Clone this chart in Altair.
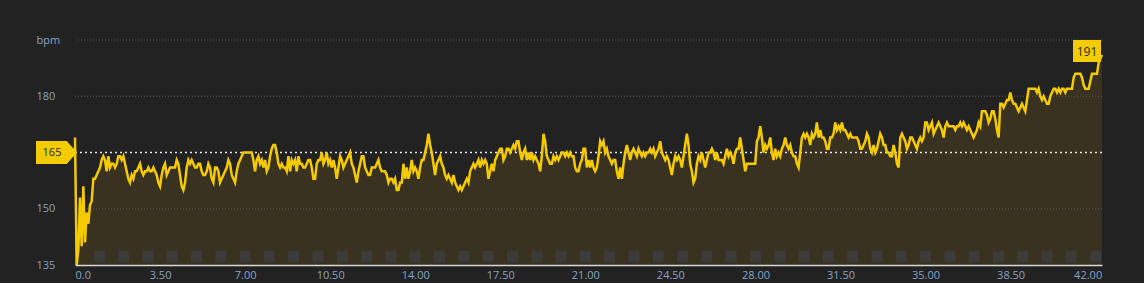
import altair as alt
import pandas as pd

# Heart-rate samples (bpm), evenly spaced along the distance axis
HR = [
    169,135,139,153,140,156,141,149,146,151,
    152,158,158,159,160,161,163,164,163,160,
    164,161,162,162,161,162,164,164,163,164,
    162,160,158,157,159,158,160,160,161,162,
    160,159,160,160,161,160,160,161,160,159,
    157,156,159,161,162,159,160,161,161,161,
    161,163,162,159,156,155,157,161,163,162,
    163,162,161,161,162,162,160,159,159,160,
    162,161,158,157,161,161,160,157,158,159,
    160,161,163,162,159,158,157,160,162,163,
    164,165,165,165,165,165,165,163,160,163,
    164,162,163,161,163,160,161,164,166,167,
    167,165,162,161,162,161,161,160,164,160,
    163,162,163,160,164,162,162,161,161,162,
    163,163,161,158,158,162,163,163,165,162,
    163,165,162,
    163,161,163,161,158,161,164,163,161,162,
    163,164,165,162,161,159,157,160,162,164,
    164,161,160,159,159,161,161,161,162,163,
    161,160,160,160,159,157,158,158,157,158,
    155,155,157,157,162,158,161,158,160,163,
    160,161,160,158,161,163,163,165,167,170,
    167,165,162,159,162,163,164,162,161,159,
    158,159,158,157,159,157,156,155,156,155,
    156,157,158,157,160,161,162,161,162,163,
    161,163,162,163,162,158,160,162,160,163,
    164,165,166,166,163,164,166,166,165,166,
    167,166,168,168,165,163,165,166,163,165,
    163,165,163,164,163,162,160,164,170,168,
    164,163,162,162,164,163,164,163,164,165,
    165,164,165,164,165,164,164,161,160,160,
    162,163,166,
    166,161,163,161,163,161,160,161,164,168,
    167,168,165,166,164,163,162,163,163,160,
    158,161,158,162,165,167,165,163,165,166,
    165,164,166,165,164,165,164,165,165,166,
    165,166,164,165,166,168,165,164,163,164,
    163,161,159,162,164,163,164,163,161,164,
    167,170,167,162,160,157,158,162,164,163,
    165,163,161,163,165,165,166,165,163,165,
    163,163,163,162,164,166,164,165,164,162,
    165,166,166,169,166,163,160,162,162,162,
    162,162,162,168,169,172,169,165,167,166,
    167,169,165,163,166,164,165,164,166,167,
    169,167,166,167,165,164,164,162,161,165,
    169,170,169,170,169,167,170,169,170,173,
    169,171,169,169,168,166,166,169,169,170,
    173,171,172,171,
    173,171,171,170,169,170,169,169,169,169,
    168,166,166,167,168,170,169,166,165,167,
    165,166,168,170,169,167,167,165,165,164,
    164,167,165,162,161,169,170,169,168,166,
    167,169,169,168,167,166,168,169,168,169,
    173,173,171,172,173,170,171,172,173,172,
    171,169,172,173,172,172,172,172,171,172,
    172,173,172,173,172,171,172,171,170,169,
    170,171,173,172,176,176,176,175,173,174,
    176,176,174,171,169,178,178,177,178,179,
    179,181,179,178,178,177,176,177,178,177,
    176,179,182,182,182,182,182,181,182,180,
    179,180,179,178,178,180,181,182,182,181,
    182,181,182,182,181,182,182,182,182,185,
    186,186,186,186,185,183,182,182,182,184,
    186,186,186,186,189,190,191,
]
KM_TOTAL = 42.26
KM = [round(i * KM_TOTAL / (len(HR) - 1), 4) for i in range(len(HR))]

X_TICKS = [0, 3.5, 7, 10.5, 14, 17.5, 21, 24.5, 28, 31.5, 35, 38.5, 42]
Y_TICKS = [135, 150, 180, 195]
GRID_VALUES = [150, 180, 195]
KM_MARKS = list(range(1, 43))
AVG_HR = 165
MAX_HR = 191

BG = "#222222"
YELLOW = "#f5cb00"
BADGE = "#f2cc00"
LABEL = "#86a3c6"
FONT = "Open Sans"

df = pd.DataFrame({"km": KM, "hr": HR})
x_scale = alt.Scale(domain=[0, KM_TOTAL], nice=False, zero=False)
y_scale = alt.Scale(domain=[135, 195], nice=False, zero=False)

area = alt.Chart(df).mark_area(color="#393220", opacity=1).encode(
    x=alt.X("km:Q", scale=x_scale, axis=alt.Axis(
        values=X_TICKS, title=None, grid=False, ticks=False, tickSize=0,
        domain=True, domainColor="#d8d8d8", domainWidth=1.5,
        labelExpr="datum.value == 0 ? '0.0' : format(datum.value, '.2f')",
        labelColor=LABEL, labelFont=FONT, labelFontSize=11, labelPadding=4,
        labelFlush=False,
        labelAlign={"condition": [
            {"test": "datum.value == 0", "value": "left"},
            {"test": "datum.value == 42", "value": "right"}], "value": "center"},
        labelOffset={"condition": {"test": "datum.value == 42", "value": 6},
                     "value": 0},
        zindex=2)),
    y=alt.Y("hr:Q", scale=y_scale, axis=alt.Axis(
        values=Y_TICKS, title=None, grid=False, ticks=False, tickSize=0,
        domain=False, labelAlign="left", labelPadding=39,
        labelExpr="datum.value == 195 ? 'bpm' : datum.label",
        labelColor=LABEL, labelFont=FONT, labelFontSize=11)),
    y2=alt.datum(135),
)

squares = alt.Chart(pd.DataFrame({"km": KM_MARKS})).mark_square(
    size=121, color="#3b3b3b", opacity=1, filled=True
).encode(x=alt.X("km:Q", scale=x_scale), y=alt.value(216.5))

grid = alt.Chart(pd.DataFrame({"v": GRID_VALUES})).mark_rule(
    color="#5c5c5c", strokeDash=[1, 2], strokeWidth=1
).encode(y=alt.Y("v:Q", scale=y_scale))

avg = alt.Chart(pd.DataFrame({"v": [AVG_HR]})).mark_rule(
    color="#e6e6e6", strokeDash=[2, 3], strokeWidth=1.5
).encode(y=alt.Y("v:Q", scale=y_scale))

line = alt.Chart(df).mark_line(color=YELLOW, strokeWidth=2.5).encode(
    x=alt.X("km:Q", scale=x_scale), y=alt.Y("hr:Q", scale=y_scale)
)

avg_df = pd.DataFrame({"v": [AVG_HR], "t": [str(AVG_HR)]})
avg_badge = alt.Chart(avg_df).mark_point(
    shape="M-1,-0.56L0.5,-0.56L1,0L0.5,0.56L-1,0.56Z", size=1681,
    filled=True, color=BADGE, opacity=1, strokeWidth=0
).encode(x=alt.value(-18.5), y=alt.Y("v:Q", scale=y_scale))
avg_text = alt.Chart(avg_df).mark_text(
    font=FONT, fontSize=11, color="#2a2a2a", baseline="middle", align="center"
).encode(x=alt.value(-23), y=alt.Y("v:Q", scale=y_scale), text="t:N")

max_df = pd.DataFrame({"t": [str(MAX_HR)]})
max_rect = alt.Chart(max_df).mark_rect(color=BADGE, opacity=1).encode(
    x=alt.value(998), x2=alt.value(1026), y=alt.value(0), y2=alt.value(22)
)
max_text = alt.Chart(max_df).mark_text(
    font=FONT, fontSize=12, color="#2a2a2a", baseline="middle", align="center"
).encode(x=alt.value(1012), y=alt.value(11.5), text="t:N")

chart = alt.layer(
    area, squares, grid, avg, line, avg_badge, avg_text, max_rect, max_text
).properties(
    width=1027, height=225,
    background=BG,
    padding={"left": 75, "top": 40, "right": 42, "bottom": 18},
    autosize=alt.AutoSizeParams(type="none"),
).configure_view(stroke=None)

chart.save("out.html", embed_options={"renderer": "svg", "actions": False})
